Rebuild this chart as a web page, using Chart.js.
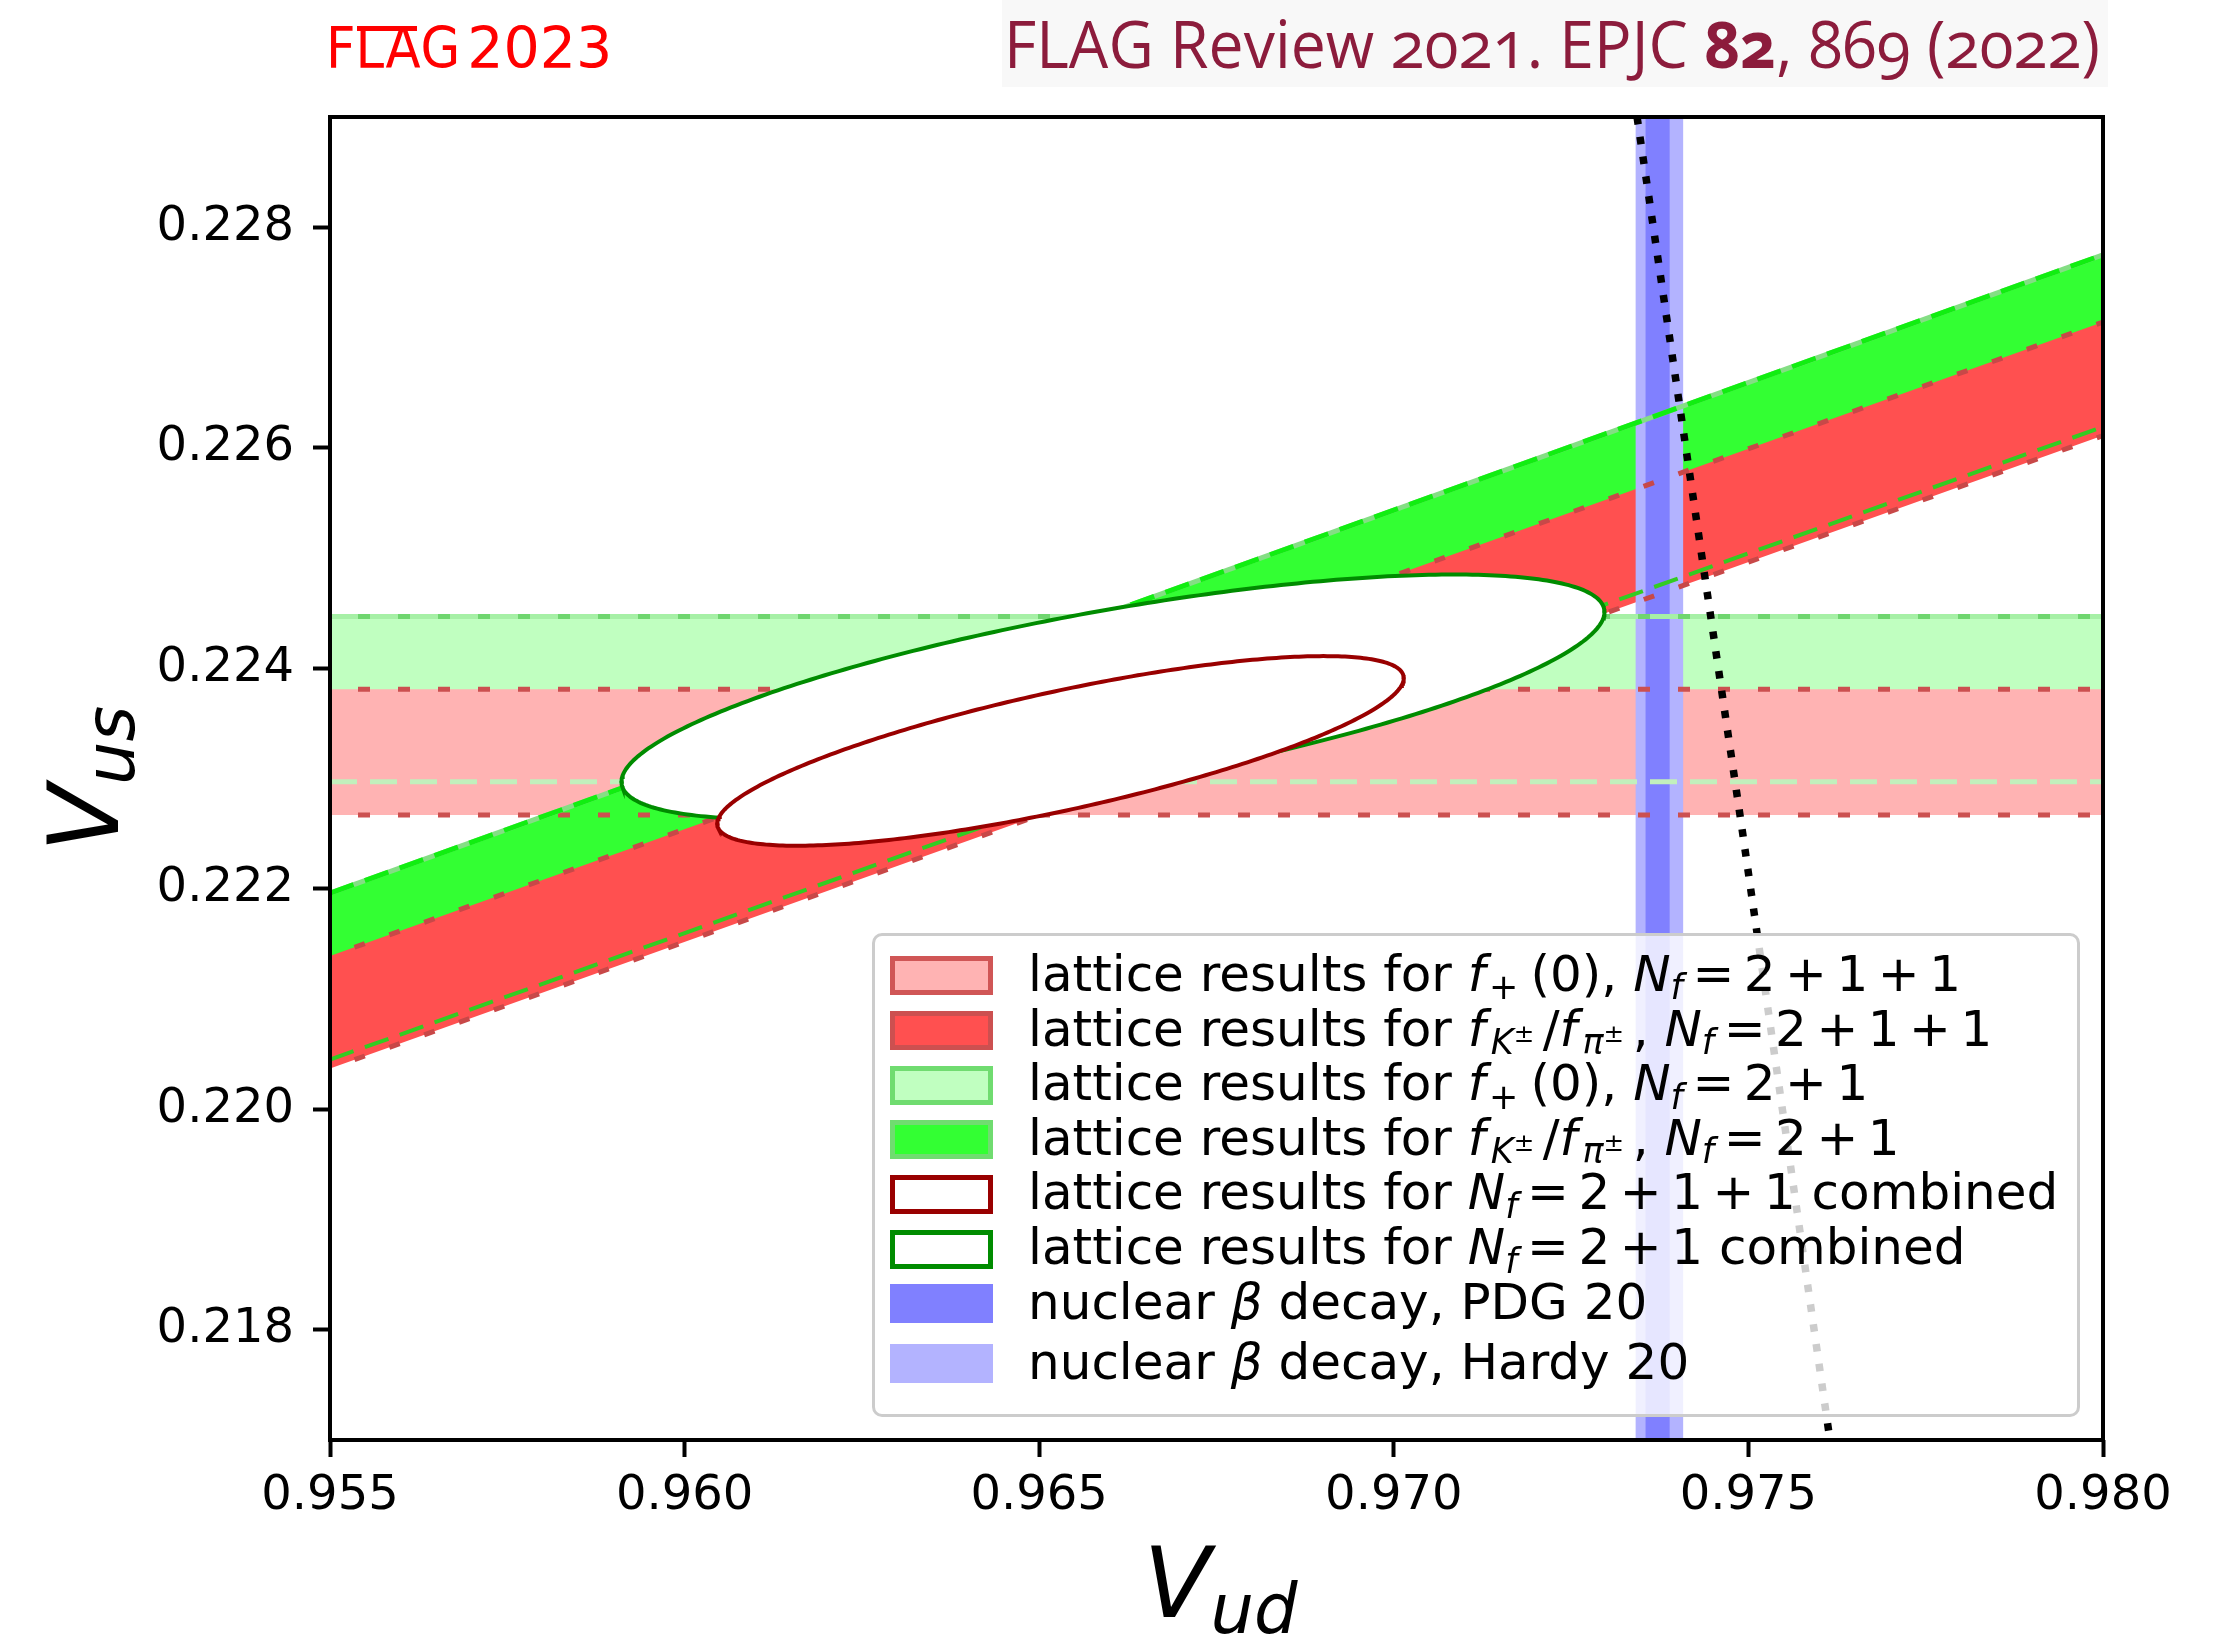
<!DOCTYPE html>
<html>
<head>
<meta charset="utf-8">
<title>V_us versus V_ud</title>
<script src="https://cdn.jsdelivr.net/npm/chart.js@4.4.1/dist/chart.umd.min.js"></script>
<style>
  html, body { margin:0; padding:0; background:#fff; overflow:hidden; }
  #wrap { position:relative; width:2223px; height:1635px; overflow:hidden; background:#fff; }
  #chart { position:absolute; left:0; top:0; }
  .txt { position:absolute; white-space:nowrap; line-height:1; margin:0; padding:0; }
  .dv { font-family:'DejaVu Sans', sans-serif; color:#000; }
  i { font-style:italic; }
  .sb { position:relative; font-size:70%; top:0.24em; }
  .sp { position:relative; font-size:70%; top:-0.5em; }
  .op { margin:0 0.19em; }
  .gap { margin-left:0.1em; margin-right:0.35em; }
  .ks { margin-left:0.15em; }
  .ksp { margin-right:0.35em; }
  #legendBox { position:absolute; left:872px; top:933px; width:1208px; height:484px; box-sizing:border-box;
               background:rgba(255,255,255,0.8); border:3px solid #cccccc; border-radius:10px; }
  .sw { position:absolute; left:890px; width:103px; height:39px; box-sizing:border-box; }
  #hdrBox { position:absolute; left:1002px; top:0px; width:1106px; height:87px; background:#f8f8f8; }
  #hdrR { font-family:'Open Sans', 'Lato', sans-serif; font-size:65px; color:#8c1c3c;
          font-variant-numeric: oldstyle-nums; font-feature-settings: "onum" 1; transform-origin: 0 0; }
  #hdrL { color:#ff0000; font-size:57px; }
  #hdrL .cond { font-family:'DejaVu Sans Condensed','DejaVu Sans',sans-serif; font-stretch:condensed; }
  #hdrL .bar { position:relative; }
  #hdrL .bar::after { content:''; position:absolute; left:1px; right:3px; top:11px; height:5px; background:#ff0000; }
  #hdrL .yr { font-family:'DejaVu Sans',sans-serif; margin-left:7px; }
</style>
</head>
<body>
<div id="wrap">
  <canvas id="chart" width="2223" height="1635"></canvas>

  <div id="hdrL" class="txt"><span class="cond">F<span class="bar">LA</span>G</span><span class="yr">2023</span></div>
  <div id="hdrBox"></div>
  <div id="hdrR" class="txt">FLAG Review 2021. EPJC <b>82</b>, 869 (2022)</div>

  <div id="ylab" class="txt dv" style="font-size:98px"><i>V</i><span class="sb"><i>us</i></span></div>
  <div id="xlab" class="txt dv" style="font-size:98px"><i>V</i><span class="sb"><i>ud</i></span></div>

  <div id="legendBox"></div>
  <div id="legendItems"></div>
</div>

<script>
// ---------------- data ----------------
const vudLimits = [0.955, 0.980];
const vusLimits = [0.217, 0.229];
const vudTicks = [0.955, 0.960, 0.965, 0.970, 0.975, 0.980];
const vudTickLabels = ['0.955', '0.960', '0.965', '0.970', '0.975', '0.980'];
const vusTicks = [0.218, 0.220, 0.222, 0.224, 0.226, 0.228];
const vusTickLabels = ['0.218', '0.220', '0.222', '0.224', '0.226', '0.228'];

// f+(0) results: horizontal V_us bands [lower, upper]
const fPlus211 = [0.22267, 0.22381];
const fPlus21  = [0.22297, 0.22447];

// fK/fpi results: V_us on the band edges, read at V_ud = 0.955 and 0.980
const ratioVud     = [0.955, 0.980];
const fKpi211Upper = [0.22139, 0.22714];
const fKpi211Lower = [0.22037, 0.22611];
const fKpi21Upper  = [0.22196, 0.22775];
const fKpi21Lower  = [0.22045, 0.22619];

// nuclear beta decay: V_ud bands [lower, upper]
const betaPDG20   = [0.97355, 0.97389];
const betaHardy20 = [0.97341, 0.97408];

// combined lattice results (ellipses), index 0: Nf=2+1+1, index 1: Nf=2+1
const ellCenterVud = [0.96530, 0.96604];
const ellCenterVus = [0.22325, 0.22374];
const ellRightVud  = [0.97014, 0.97297];   // V_ud of the right-most point
const ellRightVus  = [0.22391, 0.22451];   // V_us at the right-most point
const ellTopVus    = [0.22411, 0.22485];   // highest V_us reached

// first-row unitarity curve
const unitVud = [0.97343, 0.97492, 0.97615];
const unitVus = [0.229, 0.2225, 0.217];

// legend labels
const NF = '<i>N<span class="sb">f</span></i>';
const EQ = '<span class="op">=</span>';
const PL = '<span class="op">+</span>';
const FPLUS = '<i>f</i><span class="sb gap">+</span>(0)';
const FKPI = '<i>f</i><span class="sb ks"><i>K</i><span class="sp ksp">±</span></span>/<i>f</i><span class="sb ks"><i>π</i><span class="sp ksp">±</span></span>';
const legendLabels = [
  'lattice results for ' + FPLUS + ', ' + NF + EQ + '2' + PL + '1' + PL + '1',
  'lattice results for ' + FKPI + ', ' + NF + EQ + '2' + PL + '1' + PL + '1',
  'lattice results for ' + FPLUS + ', ' + NF + EQ + '2' + PL + '1',
  'lattice results for ' + FKPI + ', ' + NF + EQ + '2' + PL + '1',
  'lattice results for ' + NF + EQ + '2' + PL + '1' + PL + '1 combined',
  'lattice results for ' + NF + EQ + '2' + PL + '1 combined',
  'nuclear <i>β</i> decay, PDG 20',
  'nuclear <i>β</i> decay, Hardy 20'
];

// ---------------- styles ----------------
const legendFace = ['#ffb3b3', '#ff5050', '#c0ffc0', '#33ff33', '#ffffff', '#ffffff', '#8080ff', '#b3b3ff'];
const legendEdge = ['#d05656', '#cc5050', '#70dc70', '#70dc70', '#990000', '#008c00', null, null];
const legendSwatchTop = [956, 1010.7, 1065.7, 1120.3, 1175, 1230, 1284.3, 1344];
const legendBaseline  = [990.7, 1045.7, 1100.3, 1155, 1209.3, 1264.3, 1319.3, 1379.3];

// ---------------- builders (through the data arrays) ----------------
function hBand(b) { return [{x:vudLimits[0],y:b[0]},{x:vudLimits[0],y:b[1]},{x:vudLimits[1],y:b[1]},{x:vudLimits[1],y:b[0]}]; }
function dBand(lo, hi) { return [{x:ratioVud[0],y:lo[0]},{x:ratioVud[0],y:hi[0]},{x:ratioVud[1],y:hi[1]},{x:ratioVud[1],y:lo[1]}]; }
function vBand(b) { return [{x:b[0],y:vusLimits[0]},{x:b[0],y:vusLimits[1]},{x:b[1],y:vusLimits[1]},{x:b[1],y:vusLimits[0]}]; }
function hEdge(v) { return [{x:vudLimits[0],y:v},{x:vudLimits[1],y:v}]; }
function dEdge(e) { return [{x:ratioVud[0],y:e[0]},{x:ratioVud[1],y:e[1]}]; }
function ellipseArc(i, upper) {
  const cx = ellCenterVud[i], cy = ellCenterVus[i];
  const rx = ellRightVud[i] - cx, ry = ellRightVus[i] - cy;
  const H = ellTopVus[i] - cy;
  const h = Math.sqrt(Math.max(H * H - ry * ry, 0));
  const pts = [];
  const N = 180;
  for (let k = 0; k <= N; k++) {
    const t = upper ? Math.PI * (1 - k / N) : Math.PI * (1 + k / N);
    pts.push({x: cx + rx * Math.cos(t), y: cy + ry * Math.cos(t) + h * Math.sin(t)});
  }
  return pts;
}
function unitCurve() { return unitVud.map((v, i) => ({x: v, y: unitVus[i]})); }

function ds(data, order, style) {
  return Object.assign({
    data, order, showLine: true, pointRadius: 0, pointHoverRadius: 0, tension: 0, clip: 0,
    fill: false, borderWidth: 0, borderColor: 'rgba(0,0,0,0)', backgroundColor: 'rgba(0,0,0,0)',
    borderCapStyle: 'butt'
  }, style);
}
function fillDs(data, order, color) { return ds(data, order, {fill: 'shape', backgroundColor: color}); }
function edgeDs(data, order, color, width, dash, offset) {
  return ds(data, order, {borderColor: color, borderWidth: width, borderDash: dash || [], borderDashOffset: offset || 0});
}

const datasets = [];
// index 0..3: ellipses (upper arc carries the white fill down to the lower arc)
datasets.push(ds(ellipseArc(0, true), 3, {borderColor:'#990000', borderWidth:4, fill: 1, backgroundColor:'#ffffff', borderCapStyle:'round'}));
datasets.push(ds(ellipseArc(0, false), 2, {borderColor:'#990000', borderWidth:4, borderCapStyle:'round'}));
datasets.push(ds(ellipseArc(1, true), 5, {borderColor:'#008c00', borderWidth:4, fill: 3, backgroundColor:'#ffffff', borderCapStyle:'round'}));
datasets.push(ds(ellipseArc(1, false), 4, {borderColor:'#008c00', borderWidth:4, borderCapStyle:'round'}));
// unitarity (dotted)
datasets.push(ds(unitCurve(), 1, {borderColor:'#000000', borderWidth:7.5, borderDash:[7.5, 12.5]}));
// band edges
datasets.push(edgeDs(hEdge(fPlus21[1]), 14, '#a6f0a6', 5));
datasets.push(edgeDs(hEdge(fPlus21[1]), 13, '#6fd66f', 5, [12, 28], 12));
datasets.push(edgeDs(hEdge(fPlus21[0]), 12, '#c2f0bc', 5, [27, 13]));
datasets.push(edgeDs(hEdge(fPlus211[1]), 11, '#cc5050', 5, [12, 28], 12));
datasets.push(edgeDs(hEdge(fPlus211[0]), 10, '#cc5050', 5, [12, 28], 12));
datasets.push(edgeDs(dEdge(fKpi21Upper), 9, '#84de84', 5));
datasets.push(edgeDs(dEdge(fKpi21Upper), 8, '#11ee11', 5, [25, 12]));
datasets.push(edgeDs(dEdge(fKpi21Lower), 7, '#33cc22', 4, [25, 12]));
datasets.push(edgeDs(dEdge(fKpi211Upper), 6, '#c84848', 5, [11, 26], 11));
datasets.push(edgeDs(dEdge(fKpi211Lower), 6, '#c84848', 5, [11, 26], 11));
// vertical beta-decay bands
datasets.push(fillDs(vBand(betaPDG20), 15, '#8080ff'));
datasets.push(fillDs(vBand(betaHardy20), 16, '#b3b3ff'));
// fK/fpi diagonal bands
datasets.push(fillDs(dBand(fKpi211Lower, fKpi211Upper), 17, '#ff5050'));
datasets.push(fillDs(dBand(fKpi21Lower, fKpi21Upper), 18, '#33ff33'));
// f+(0) horizontal bands
datasets.push(fillDs(hBand(fPlus211), 19, '#ffb3b3'));
datasets.push(fillDs(hBand(fPlus21), 20, '#c0ffc0'));

const framePlugin = {
  id: 'frame',
  afterDraw(chart) {
    const {ctx, chartArea: a} = chart;
    ctx.save();
    ctx.strokeStyle = '#000';
    ctx.lineWidth = 4;
    ctx.strokeRect(a.left, a.top, a.right - a.left, a.bottom - a.top);
    ctx.restore();
  }
};

const tickFont = {family: 'DejaVu Sans', size: 48};
new Chart(document.getElementById('chart'), {
  type: 'line',
  data: {datasets},
  plugins: [framePlugin],
  options: {
    responsive: false,
    animation: false,
    devicePixelRatio: 1,
    events: [],
    layout: {padding: {top: 117, right: 120, bottom: 0, left: 0}},
    plugins: {legend: {display: false}, tooltip: {enabled: false}, filler: {propagate: false}},
    scales: {
      x: {
        type: 'linear', min: vudLimits[0], max: vudLimits[1],
        afterFit(s) { s.height = 195; },
        afterBuildTicks(s) { s.ticks = vudTicks.map(v => ({value: v})); },
        ticks: {font: tickFont, color: '#000', padding: 11, maxRotation: 0, autoSkip: false,
                callback: (v, i) => vudTickLabels[i]},
        grid: {display: true, drawOnChartArea: false, drawTicks: true, tickLength: 17, tickWidth: 4, tickColor: '#000'},
        border: {display: false}
      },
      y: {
        type: 'linear', min: vusLimits[0], max: vusLimits[1],
        afterFit(s) { s.width = 330; },
        afterBuildTicks(s) { s.ticks = vusTicks.map(v => ({value: v})); },
        ticks: {font: tickFont, color: '#000', padding: 19, autoSkip: false,
                callback: (v, i) => vusTickLabels[i]},
        grid: {display: true, drawOnChartArea: false, drawTicks: true, tickLength: 17, tickWidth: 4, tickColor: '#000'},
        border: {display: false}
      }
    }
  }
});

// ---------------- text overlays ----------------
function baselineOffset(el) {
  const p = document.createElement('span');
  p.style.cssText = 'display:inline-block;width:0;height:0;vertical-align:baseline;';
  el.appendChild(p);
  const o = p.offsetTop;
  el.removeChild(p);
  return o;
}
function placeText(el, left, base) {
  el.style.left = left + 'px';
  el.style.top = '0px';
  const o = baselineOffset(el);
  el.style.top = (base - o) + 'px';
  return o;
}

// legend
const legendItems = document.getElementById('legendItems');
legendLabels.forEach((lab, i) => {
  const sw = document.createElement('div');
  sw.className = 'sw';
  sw.style.top = legendSwatchTop[i] + 'px';
  sw.style.background = legendFace[i];
  if (legendEdge[i]) sw.style.border = '5px solid ' + legendEdge[i];
  legendItems.appendChild(sw);
  const t = document.createElement('div');
  t.className = 'txt dv';
  t.style.fontSize = '50px';
  t.innerHTML = lab;
  legendItems.appendChild(t);
  placeText(t, 1028, legendBaseline[i]);
});

// headers
placeText(document.getElementById('hdrL'), 326, 68.3);
const hr = document.getElementById('hdrR');
placeText(hr, 1004, 68.3);
const hrW = hr.offsetWidth;
hr.style.transform = 'scaleX(' + (1096 / hrW) + ')';

// axis labels
const xl = document.getElementById('xlab');
const xlW = xl.offsetWidth;
placeText(xl, 1216.5 - xlW / 2 + 4, 1616.7);

const yl = document.getElementById('ylab');
const ylW = yl.offsetWidth;
const yBaseX = 118, yCenter = 778.5;
yl.style.left = yBaseX + 'px';
yl.style.top = '0px';
const yo = baselineOffset(yl);
yl.style.top = (yCenter + ylW / 2 - yo) + 'px';
yl.style.transformOrigin = '0px ' + yo + 'px';
yl.style.transform = 'rotate(-90deg)';
</script>
</body>
</html>
